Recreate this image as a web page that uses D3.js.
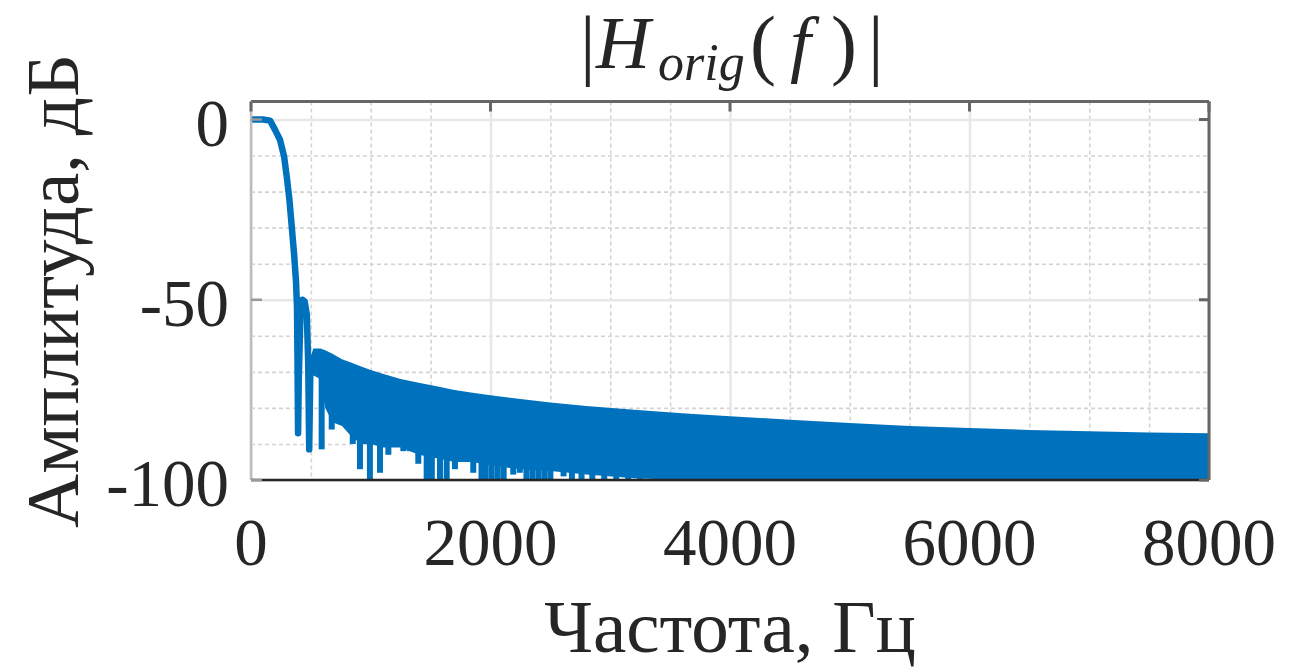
<!DOCTYPE html>
<html>
<head>
<meta charset="utf-8">
<script src="https://cdn.jsdelivr.net/npm/d3@7"></script>
<style>
  body { margin: 0; background: #fff; }
  text { font-family: "Liberation Serif", "Times New Roman", serif; fill: #262626; }
</style>
</head>
<body>
<script>
//==========================================================================//
//  DATA
//==========================================================================//

// main lobe + first sidelobe, drawn as a plain line
var passF  = [0, 100, 159, 200, 242, 276, 298, 320, 340, 359, 376, 384, 388, 393, 399, 412, 430, 448, 466, 478, 486, 497];
var passDb = [0, 0, -0.3, -2.8, -5.6, -10.2, -15.7, -22, -29.6, -37, -45, -52, -65, -87, -72, -55, -50, -50.5, -54, -68, -91.5, -66];

// dense stopband ripple: upper envelope and lower "floor" of the blue band
var bandF     = [497, 520, 580, 620, 680, 760, 840, 920, 1000, 1100, 1250, 1400, 1550, 1700, 1850, 2000, 2250, 2500, 2800, 3200, 3600, 4000, 4500, 5000, 5500, 6000, 6500, 7000, 7500, 8000];
var bandTop   = [-66, -63.5, -63.5, -64, -65, -66.5, -67.5, -68.5, -69.5, -70.5, -72, -73, -74, -75, -75.8, -76.5, -77.5, -78.5, -79.5, -80.5, -81.5, -82.3, -83.3, -84.2, -85, -85.6, -86.1, -86.5, -86.8, -87];
var bandFloor = [-71, -71, -72, -80, -84, -85, -88, -90, -90, -91, -91, -93, -94, -95, -95, -96, -97, -97.5, -98.5, -99.5, -100, -100, -100, -100, -100, -100, -100, -100, -100, -100];

// deep nulls poking out below the band
var nullF  = [590, 674, 850, 910, 993, 1077, 1147, 1272, 1328, 1397, 1467, 1510, 1578, 1634, 1703, 1772, 1856, 1925, 1960, 2010, 2060, 2110, 2190, 2245, 2300, 2350, 2400, 2450, 2500, 2610, 2680, 2760, 2850, 2950, 3050, 3150, 3250, 3400, 3500];
var nullDb = [-91.5, -86, -90, -97, -100, -98, -93, -92, -92, -95.5, -100, -100, -100, -100, -97, -95, -98, -100, -100, -100, -100, -100, -98.5, -98, -100, -100, -100, -100, -100, -99, -100, -100, -100, -100, -100, -100, -100, -100, -100];

var xTicks = [0, 2000, 4000, 6000, 8000];
var yTicks = [0, -50, -100];

//==========================================================================//
//  SETUP
//==========================================================================//
var W = 1294, H = 668;
var margin = {left: 251, right: 1294 - 1209, top: 101.5, bottom: 668 - 480};
var width = W - margin.left - margin.right,
    height = H - margin.top - margin.bottom;

var svg = d3.select("body").append("svg")
    .attr("width", W)
    .attr("height", H);

var g = svg.append("g")
    .attr("transform", "translate(" + margin.left + "," + margin.top + ")");

var x = d3.scaleLinear().domain([0, 8000]).range([0, width]);
var y = d3.scaleLinear().domain([-100, 5]).range([height, 0]);

// floor of the band as a piecewise scale (used to anchor the null spikes)
var floorAt = d3.scaleLinear().domain(bandF).range(bandFloor).clamp(true);

svg.append("defs").append("clipPath").attr("id", "plotclip")
  .append("rect").attr("x", 0).attr("y", 0).attr("width", width).attr("height", height);

//==========================================================================//
//  GRID
//==========================================================================//
// minor (dotted) grid
g.append("g")
    .call(d3.axisBottom(x).tickValues(d3.range(500, 8000, 500)).tickSize(height).tickFormat(""))
    .call(function(s) { s.select(".domain").remove(); })
    .selectAll("line")
    .attr("stroke", "#d4d4d4").attr("stroke-width", 1.6).attr("stroke-dasharray", "4,3");

g.append("g")
    .call(d3.axisLeft(y).tickValues(d3.range(-90, 5, 10)).tickSize(-width).tickFormat(""))
    .call(function(s) { s.select(".domain").remove(); })
    .selectAll("line")
    .attr("stroke", "#d4d4d4").attr("stroke-width", 1.6).attr("stroke-dasharray", "4,3");

// major grid
g.append("g")
    .call(d3.axisBottom(x).tickValues(xTicks).tickSize(height).tickFormat(""))
    .call(function(s) { s.select(".domain").remove(); })
    .selectAll("line")
    .attr("stroke", "#e8e8e8").attr("stroke-width", 2.5);

g.append("g")
    .call(d3.axisLeft(y).tickValues(yTicks).tickSize(-width).tickFormat(""))
    .call(function(s) { s.select(".domain").remove(); })
    .selectAll("line")
    .attr("stroke", "#e8e8e8").attr("stroke-width", 2.5);

//==========================================================================//
//  RESPONSE
//==========================================================================//
var blue = "#0072BD";
var plot = g.append("g").attr("clip-path", "url(#plotclip)");

var band = bandF.map(function(f, i) { return {f: f, top: bandTop[i], bot: bandFloor[i]}; });
plot.append("path")
    .datum(band)
    .attr("fill", blue)
    .attr("d", d3.area()
        .x(function(d) { return x(d.f); })
        .y0(function(d) { return y(d.bot); })
        .y1(function(d) { return y(d.top); }));

var nulls = nullF.map(function(f, i) { return {f: f, db: nullDb[i]}; });
plot.selectAll(".null")
    .data(nulls)
    .join("line")
    .attr("class", "null")
    .attr("x1", function(d) { return x(d.f); })
    .attr("x2", function(d) { return x(d.f); })
    .attr("y1", function(d) { return y(floorAt(d.f) + 3); })
    .attr("y2", function(d) { return y(d.db); })
    .attr("stroke", blue)
    .attr("stroke-width", 6);

var pass = passF.map(function(f, i) { return {f: f, db: passDb[i]}; });
plot.append("path")
    .datum(pass)
    .attr("fill", "none")
    .attr("stroke", blue)
    .attr("stroke-width", 6.5)
    .attr("stroke-linejoin", "round")
    .attr("d", d3.line()
        .x(function(d) { return x(d.f); })
        .y(function(d) { return y(d.db); }));

//==========================================================================//
//  AXES BOX + TICKS
//==========================================================================//
g.append("line").attr("x1", 0).attr("x2", width).attr("y1", 0).attr("y2", 0)
    .attr("stroke", "#666").attr("stroke-width", 3);
g.append("line").attr("x1", width).attr("x2", width).attr("y1", 0).attr("y2", height)
    .attr("stroke", "#666").attr("stroke-width", 3);
g.append("line").attr("x1", 0).attr("x2", 0).attr("y1", 0).attr("y2", height)
    .attr("stroke", "#bdbdbd").attr("stroke-width", 2.5);
g.append("line").attr("x1", 0).attr("x2", width).attr("y1", height).attr("y2", height)
    .attr("stroke", "#262626").attr("stroke-width", 2.5);

// inward ticks
g.selectAll(".xt-top").data(xTicks).join("line")
    .attr("x1", x).attr("x2", x).attr("y1", 0).attr("y2", 10)
    .attr("stroke", "#666").attr("stroke-width", 3);
g.selectAll(".yt-right").data(yTicks).join("line")
    .attr("x1", width - 10).attr("x2", width).attr("y1", y).attr("y2", y)
    .attr("stroke", "#666").attr("stroke-width", 3);
g.selectAll(".yt-left").data(yTicks).join("line")
    .attr("x1", 0).attr("x2", 11).attr("y1", y).attr("y2", y)
    .attr("stroke", "#999").attr("stroke-width", 2.5);

// tick labels
g.selectAll(".xl").data(xTicks).join("text")
    .attr("x", x).attr("y", height + 85)
    .attr("text-anchor", "middle")
    .style("font-size", "67px")
    .text(function(d) { return d; });

g.selectAll(".yl").data(yTicks).join("text")
    .attr("x", -22).attr("y", function(d) { return y(d) + 26; })
    .attr("text-anchor", "end")
    .style("font-size", "67px")
    .text(function(d) { return d; });

//==========================================================================//
//  LABELS + TITLE
//==========================================================================//
svg.append("text")
    .attr("x", 730).attr("y", 652)
    .attr("text-anchor", "middle")
    .style("font-size", "75px")
    .text("Частота, Гц");

svg.append("text")
    .attr("transform", "translate(78,291) rotate(-90)")
    .attr("text-anchor", "middle")
    .style("font-size", "75px")
    .text("Амплитуда, дБ");

// title |H_orig(f)| built from separate pieces
var titleParts = [
    {t: "|",    x: 580, y: 70, size: 78, it: false},
    {t: "H",    x: 596, y: 68, size: 75, it: true},
    {t: "orig", x: 658, y: 80, size: 52, it: true},
    {t: "(",    x: 750, y: 70, size: 78, it: false},
    {t: "f",    x: 790, y: 68, size: 75, it: true},
    {t: ")",    x: 831, y: 70, size: 78, it: false},
    {t: "|",    x: 868, y: 70, size: 78, it: false}
];
svg.selectAll(".title").data(titleParts).join("text")
    .attr("class", "title")
    .attr("x", function(d) { return d.x; })
    .attr("y", function(d) { return d.y; })
    .style("font-size", function(d) { return d.size + "px"; })
    .style("font-style", function(d) { return d.it ? "italic" : "normal"; })
    .text(function(d) { return d.t; });
</script>
</body>
</html>
